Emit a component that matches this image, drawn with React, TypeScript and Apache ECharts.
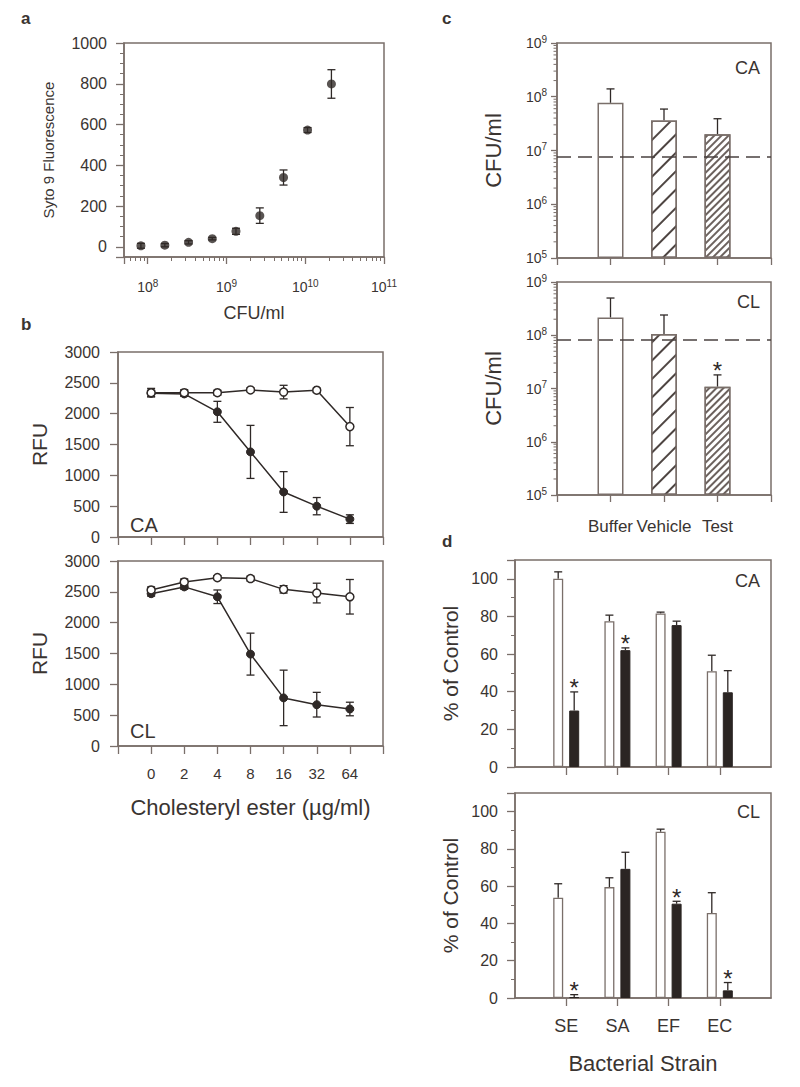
import React, { useEffect, useRef } from 'react';
import * as echarts from 'echarts';

// ---------- Panel a ----------
const aCfu = [8.2e7, 1.65e8, 3.3e8, 6.6e8, 1.32e9, 2.65e9, 5.3e9, 1.07e10, 2.15e10];
const aFluor = [5, 8, 22, 40, 76, 153, 340, 573, 799];
const aErr = [12, 8, 8, 6, 15, 38, 37, 12, 70];

// ---------- Panel b ----------
const doses = ['0', '2', '4', '8', '16', '32', '64'];
const caVehicleRfu = [2340, 2340, 2340, 2385, 2350, 2380, 1790];
const caVehicleErr = [70, 50, 40, 30, 110, 30, 310];
const caTestRfu = [2330, 2320, 2030, 1380, 730, 500, 290];
const caTestErr = [50, 40, 170, 430, 330, 140, 70];
const clVehicleRfu = [2530, 2660, 2730, 2715, 2540, 2480, 2420];
const clVehicleErr = [50, 50, 30, 40, 60, 160, 280];
const clTestRfu = [2470, 2580, 2420, 1490, 780, 670, 600];
const clTestErr = [40, 40, 110, 340, 450, 200, 110];

// ---------- Panel c ----------
const treatments = ['Buffer', 'Vehicle', 'Test'];
const caCfu = [7.7e7, 3.6e7, 2.0e7];
const caCfuUpper = [1.4e8, 5.9e7, 3.9e7];
const caLimit = 7.6e6;
const caCfuStars = [false, false, false];
const clCfu = [2.15e8, 1.05e8, 1.08e7];
const clCfuUpper = [5.0e8, 2.4e8, 1.8e7];
const clLimit = 8.3e7;
const clCfuStars = [false, false, true];

// ---------- Panel d ----------
const strains = ['SE', 'SA', 'EF', 'EC'];
const caVehiclePct = [100, 77.5, 81.6, 50.9];
const caVehiclePctErr = [3.7, 3.2, 0.7, 8.5];
const caTestPct = [30, 62.1, 75.4, 39.7];
const caTestPctErr = [9.9, 1.2, 2.1, 11.5];
const caPctStars = [true, true, false, false];
const clVehiclePct = [53.8, 59.5, 89.2, 45.6];
const clVehiclePctErr = [7.5, 5, 1.4, 10.9];
const clTestPct = [0.5, 69.3, 50.6, 4.1];
const clTestPctErr = [1.3, 8.9, 1.3, 4.2];
const clPctStars = [true, false, true, true];

// ---------- styles ----------
const AX = '#7a6f6a';
const INK = '#2f2927';
const TXT = '#3a3431';
const FONT = '"Liberation Sans", Arial, Helvetica, sans-serif';

const axLine = { show: true, onZero: false, lineStyle: { color: AX, width: 1.5 } };
const tick = (len: number) => ({ show: true, length: len, inside: false, lineStyle: { color: AX, width: 1.3 } });

// minor log-tick positions (2..9 x 10^k) inside [lo, hi]
function logMinorValues(lo: number, hi: number) {
  const out: number[] = [];
  for (let e = Math.floor(Math.log10(lo)); e <= Math.ceil(Math.log10(hi)); e++) {
    for (let m = 2; m <= 9; m++) {
      const v = m * Math.pow(10, e);
      if (v > lo && v < hi) out.push(v);
    }
  }
  return out;
}

function pow10Label(v: number) {
  const e = Math.log10(v);
  const r = Math.round(e);
  if (Math.abs(e - r) > 1e-6) return '';
  return '{b|10}{s|' + r + '}';
}
const powRich = (size: number) => ({
  b: { fontSize: size, fontFamily: FONT, color: TXT },
  s: { fontSize: Math.round(size * 0.68), fontFamily: FONT, color: TXT, padding: [0, 0, Math.round(size * 0.6), 0] },
});

function errorBars(opts: { both: boolean; cap: number; offset?: number; stars?: boolean[] }) {
  return (params: any, api: any) => {
    const x = api.value(0);
    const lo = api.coord([x, api.value(1)]);
    const hi = api.coord([x, api.value(2)]);
    const cx = lo[0] + (opts.offset || 0);
    const st = { stroke: INK, lineWidth: 1.3 };
    const ch: any[] = [
      { type: 'line', shape: { x1: cx, y1: lo[1], x2: cx, y2: hi[1] }, style: st },
      { type: 'line', shape: { x1: cx - opts.cap, y1: hi[1], x2: cx + opts.cap, y2: hi[1] }, style: st },
    ];
    if (opts.both) {
      ch.push({ type: 'line', shape: { x1: cx - opts.cap, y1: lo[1], x2: cx + opts.cap, y2: lo[1] }, style: st });
    }
    if (opts.stars && opts.stars[params.dataIndex]) {
      ch.push({
        type: 'text',
        x: cx,
        y: hi[1] - 4,
        style: { text: '*', fill: INK, fontSize: 24, fontFamily: FONT, align: 'center', verticalAlign: 'middle' },
      });
    }
    return { type: 'group', children: ch };
  };
}

// minor ticks of a log y-axis, drawn at the axis' left edge via the axis scale
function minorTickRender(len: number) {
  return (params: any, api: any) => {
    const p = api.coord([0, api.value(1)]);
    return {
      type: 'line',
      shape: { x1: p[0] - len, y1: p[1], x2: p[0], y2: p[1] },
      style: { stroke: AX, lineWidth: 1 },
    };
  };
}

function symErr(xs: number[], ys: number[], es: number[]) {
  return ys.map((y, i) => [xs[i], y - es[i], y + es[i]]);
}

function App() {
  const ref = useRef<HTMLDivElement>(null);
  useEffect(() => {
    if (!ref.current) return;
    const chart = echarts.init(ref.current, undefined, { renderer: 'svg' });

    const idx = doses.map((_, i) => i + 1);
    const bCats = ['', ...doses, ''];
    const cCats = ['', ...treatments, ''];
    const dCats = ['', ...strains, ''];

    const grids = [
      { left: 124, top: 43, width: 260, height: 214 }, // a
      { left: 118, top: 352, width: 265, height: 185 }, // b CA
      { left: 118, top: 561, width: 265, height: 185 }, // b CL
      { left: 557, top: 43, width: 214, height: 215 }, // c CA
      { left: 557, top: 282, width: 214, height: 213 }, // c CL
      { left: 515, top: 560, width: 256, height: 207 }, // d CA
      { left: 515, top: 793, width: 256, height: 205 }, // d CL
    ].map((g) => ({ ...g, show: true, borderColor: AX, borderWidth: 1.5, backgroundColor: 'transparent', containLabel: false }));

    const labelBase = { color: TXT, fontFamily: FONT };
    const nameBase = { color: TXT, fontFamily: FONT };

    const bX = (gi: number, showLabels: boolean) => ({
      type: 'category',
      gridIndex: gi,
      data: bCats,
      boundaryGap: false,
      axisLine: axLine,
      axisTick: { ...tick(8), interval: 0 },
      axisLabel: { show: showLabels, interval: 0, fontSize: 15, margin: 20, ...labelBase },
      splitLine: { show: false },
      name: showLabels ? 'Cholesteryl ester (µg/ml)' : '',
      nameLocation: 'middle',
      nameGap: 50,
      nameTextStyle: { fontSize: 22, ...nameBase },
    });
    const bY = (gi: number) => ({
      type: 'value',
      gridIndex: gi,
      min: 0,
      max: 3000,
      interval: 500,
      axisLine: axLine,
      axisTick: tick(8),
      axisLabel: { fontSize: 16, margin: 18, formatter: (v: number) => String(v), ...labelBase },
      splitLine: { show: false },
      name: 'RFU',
      nameLocation: 'middle',
      nameGap: 68,
      nameTextStyle: { fontSize: 21, ...nameBase },
    });
    const cX = (gi: number, showLabels: boolean) => ({
      type: 'category',
      gridIndex: gi,
      data: cCats,
      boundaryGap: false,
      axisLine: axLine,
      axisTick: { ...tick(7), interval: 0 },
      axisLabel: { show: showLabels, interval: 0, fontSize: 17, margin: 23, ...labelBase },
      splitLine: { show: false },
    });
    const cY = (gi: number) => ({
      type: 'log',
      logBase: 10,
      gridIndex: gi,
      min: 1e5,
      max: 1e9,
      startValue: 1e5,
      axisLine: axLine,
      axisTick: tick(6),
      axisLabel: { formatter: pow10Label, rich: powRich(14), margin: 10, ...labelBase },
      splitLine: { show: false },
      name: 'CFU/ml',
      nameLocation: 'middle',
      nameGap: 53,
      nameTextStyle: { fontSize: 22, ...nameBase },
    });
    const dX = (gi: number, showLabels: boolean) => ({
      type: 'category',
      gridIndex: gi,
      data: dCats,
      boundaryGap: false,
      axisLine: axLine,
      axisTick: { ...tick(8), interval: (i: number) => i > 0 && i < dCats.length - 1 },
      axisLabel: { show: showLabels, interval: 0, fontSize: 18, margin: 19, ...labelBase },
      splitLine: { show: false },
      name: showLabels ? 'Bacterial Strain' : '',
      nameLocation: 'middle',
      nameGap: 54,
      nameTextStyle: { fontSize: 22, ...nameBase },
    });
    const dY = (gi: number) => ({
      type: 'value',
      gridIndex: gi,
      min: 0,
      max: 110,
      splitNumber: 5,
      axisLine: axLine,
      axisTick: tick(8),
      minorTick: { show: true, splitNumber: 2, length: 4, lineStyle: { color: AX, width: 1 } },
      axisLabel: { fontSize: 16, margin: 17, formatter: (v: number) => (v > 100 ? '' : String(v)), ...labelBase },
      splitLine: { show: false },
      minorSplitLine: { show: false },
      name: '% of Control',
      nameLocation: 'middle',
      nameGap: 54,
      nameTextStyle: { fontSize: 21, ...nameBase },
    });

    const aMinLog = Math.log10(5e7);
    const xAxis: any[] = [
      {
        type: 'log',
        logBase: 10,
        gridIndex: 0,
        position: 'bottom',
        min: 5e7,
        max: 1e11,
        axisLine: axLine,
        axisTick: tick(7),
        axisLabel: { formatter: pow10Label, rich: powRich(14), margin: 21, ...labelBase },
        splitLine: { show: false },
        name: 'CFU/ml',
        nameLocation: 'middle',
        nameGap: 47,
        nameTextStyle: { fontSize: 18, ...nameBase },
      },
      bX(1, false),
      bX(2, true),
      cX(3, false),
      cX(4, true),
      dX(5, false),
      dX(6, true),
      {
        // overlay in exponent space carrying the log minor ticks of panel a
        type: 'value',
        gridIndex: 0,
        position: 'bottom',
        min: aMinLog,
        max: 11,
        axisLine: { show: false, onZero: false },
        axisTick: {
          show: true,
          length: 4,
          customValues: logMinorValues(5e7, 1e11).map((v) => Math.log10(v)),
          lineStyle: { color: AX, width: 1 },
        },
        axisLabel: { show: false },
        splitLine: { show: false },
      },
    ];
    const yAxis: any[] = [
      {
        type: 'value',
        gridIndex: 0,
        min: -50,
        max: 1000,
        splitNumber: 5,
        axisLine: axLine,
        axisTick: tick(8),
        minorTick: { show: true, splitNumber: 4, length: 4, lineStyle: { color: AX, width: 1 } },
        axisLabel: { fontSize: 16, margin: 17, formatter: (v: number) => (v < 0 ? '' : String(v)), ...labelBase },
        splitLine: { show: false },
        minorSplitLine: { show: false },
        name: 'Syto 9 Fluorescence',
        nameLocation: 'middle',
        nameGap: 68,
        nameTextStyle: { fontSize: 15, ...nameBase },
      },
      bY(1),
      bY(2),
      cY(3),
      cY(4),
      dY(5),
      dY(6),
    ];

    const lineSeries = (gi: number, vals: number[], open: boolean, name: string) => ({
      type: 'line',
      name,
      xAxisIndex: gi,
      yAxisIndex: gi,
      data: vals.map((v, i) => [idx[i], v]),
      symbol: 'circle',
      symbolSize: 8,
      lineStyle: { color: INK, width: 1.5 },
      itemStyle: open ? { color: '#ffffff', borderColor: INK, borderWidth: 1.5 } : { color: INK, borderColor: INK, borderWidth: 1 },
      z: open ? 4 : 3,
    });
    const errSeries = (gi: number, data: number[][], opts: any) => ({
      type: 'custom',
      xAxisIndex: gi,
      yAxisIndex: gi,
      data,
      encode: { x: 0, y: [1, 2] },
      renderItem: errorBars(opts),
      z: 2,
      silent: true,
    });
    const minorTickSeries = (gi: number) => ({
      type: 'custom',
      xAxisIndex: gi,
      yAxisIndex: gi,
      data: logMinorValues(1e5, 1e9).map((v) => [0, v]),
      encode: { x: 0, y: 1 },
      renderItem: minorTickRender(3.5),
      clip: false,
      silent: true,
      z: 1,
    });

    const hatchWide = {
      symbol: 'rect',
      symbolSize: 1,
      dashArrayX: [1, 0],
      dashArrayY: [1.6, 11],
      rotation: -Math.PI / 4,
      color: '#4e4542',
    };
    const hatchFine = {
      symbol: 'rect',
      symbolSize: 1,
      dashArrayX: [1, 0],
      dashArrayY: [1.2, 2.2],
      rotation: -Math.PI / 4,
      color: '#6c625e',
    };
    const cBar = (gi: number, vals: number[], limit: number) => ({
      type: 'bar',
      xAxisIndex: gi,
      yAxisIndex: gi,
      barWidth: 26,
      clip: true,
      data: vals.map((v, i) => ({
        value: [i + 1, v],
        itemStyle: {
          color: '#ffffff',
          borderColor: AX,
          borderWidth: 1.5,
          decal: i === 1 ? hatchWide : i === 2 ? hatchFine : undefined,
        },
      })),
      markLine: {
        silent: true,
        symbol: ['none', 'none'],
        label: { show: false },
        lineStyle: { color: '#4a4240', width: 1.5, type: [14, 7] },
        data: [{ yAxis: limit }],
      },
      z: 2,
    });
    const dBar = (gi: number, vals: number[], dark: boolean) => ({
      type: 'bar',
      xAxisIndex: gi,
      yAxisIndex: gi,
      barWidth: 10,
      barGap: '60%',
      data: vals.map((v, i) => [i + 1, v]),
      itemStyle: dark ? { color: '#2b2523', borderColor: '#2b2523', borderWidth: 1 } : { color: '#ffffff', borderColor: AX, borderWidth: 1.3 },
      z: 2,
    });

    const series: any[] = [
      {
        type: 'scatter',
        xAxisIndex: 0,
        yAxisIndex: 0,
        data: aCfu.map((c, i) => [c, aFluor[i]]),
        symbol: 'circle',
        symbolSize: 9,
        itemStyle: { color: INK },
        z: 3,
      },
      errSeries(0, symErr(aCfu, aFluor, aErr), { both: true, cap: 4 }),

      lineSeries(1, caTestRfu, false, 'Test'),
      lineSeries(1, caVehicleRfu, true, 'Vehicle'),
      errSeries(1, symErr(idx, caTestRfu, caTestErr), { both: true, cap: 4 }),
      errSeries(1, symErr(idx, caVehicleRfu, caVehicleErr), { both: true, cap: 4 }),

      lineSeries(2, clTestRfu, false, 'Test'),
      lineSeries(2, clVehicleRfu, true, 'Vehicle'),
      errSeries(2, symErr(idx, clTestRfu, clTestErr), { both: true, cap: 4 }),
      errSeries(2, symErr(idx, clVehicleRfu, clVehicleErr), { both: true, cap: 4 }),

      cBar(3, caCfu, caLimit),
      errSeries(3, caCfu.map((v, i) => [i + 1, v, caCfuUpper[i]]), { both: false, cap: 4, stars: caCfuStars }),
      minorTickSeries(3),
      cBar(4, clCfu, clLimit),
      errSeries(4, clCfu.map((v, i) => [i + 1, v, clCfuUpper[i]]), { both: false, cap: 4, stars: clCfuStars }),
      minorTickSeries(4),

      dBar(5, caVehiclePct, false),
      dBar(5, caTestPct, true),
      errSeries(5, caVehiclePct.map((v, i) => [i + 1, v, v + caVehiclePctErr[i]]), { both: false, cap: 4, offset: -8 }),
      errSeries(5, caTestPct.map((v, i) => [i + 1, v, v + caTestPctErr[i]]), { both: false, cap: 4, offset: 8, stars: caPctStars }),

      dBar(6, clVehiclePct, false),
      dBar(6, clTestPct, true),
      errSeries(6, clVehiclePct.map((v, i) => [i + 1, v, v + clVehiclePctErr[i]]), { both: false, cap: 4, offset: -8 }),
      errSeries(6, clTestPct.map((v, i) => [i + 1, v, v + clTestPctErr[i]]), { both: false, cap: 4, offset: 8, stars: clPctStars }),
    ];

    const txt = (text: string, x: number, y: number, size: number, align: string, bold = false) => ({
      type: 'text',
      x,
      y,
      silent: true,
      style: {
        text,
        fill: TXT,
        fontSize: size,
        fontFamily: FONT,
        fontWeight: bold ? 'bold' : 'normal',
        align,
        verticalAlign: 'middle',
      },
    });

    const graphic = [
      txt('a', 21, 18, 17, 'left', true),
      txt('b', 21, 324, 17, 'left', true),
      txt('c', 442, 18, 17, 'left', true),
      txt('d', 442, 541, 17, 'left', true),
      txt('CA', 130, 525, 20, 'left'),
      txt('CL', 130, 731, 20, 'left'),
      txt('CA', 760, 68, 18, 'right'),
      txt('CL', 760, 302, 18, 'right'),
      txt('CA', 760, 581, 18, 'right'),
      txt('CL', 760, 812, 18, 'right'),
    ];

    chart.setOption({
      animation: false,
      backgroundColor: '#ffffff',
      textStyle: { fontFamily: FONT },
      grid: grids,
      xAxis,
      yAxis,
      series,
      graphic,
    });
    return () => chart.dispose();
  }, []);

  return (
    <div
      ref={ref}
      style={{ position: 'absolute', left: 0, top: 0, width: 800, height: 1087, background: '#fff' }}
    />
  );
}

export default App;
